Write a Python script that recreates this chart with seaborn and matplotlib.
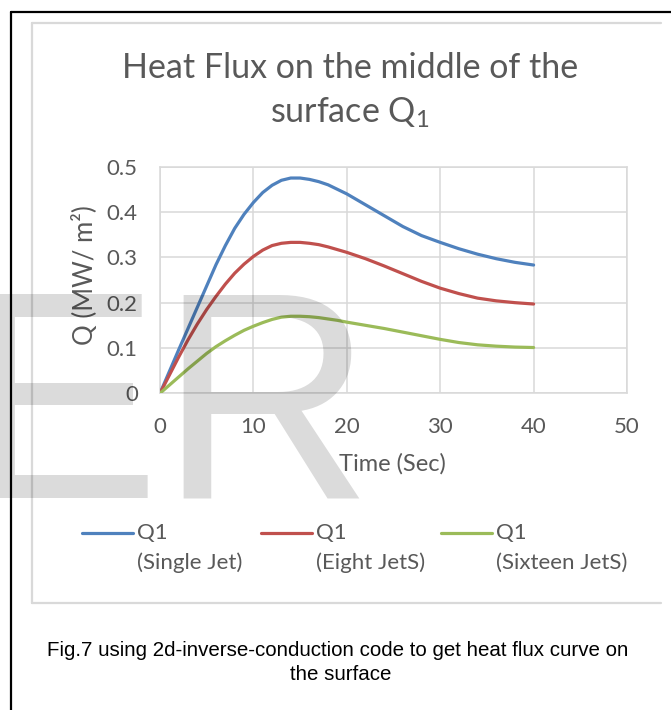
import matplotlib
matplotlib.use("Agg")
import matplotlib.pyplot as plt
from matplotlib.lines import Line2D
import seaborn as sns
import pandas as pd

# Time samples (s)
time_s = [0, 1, 2, 3, 4, 5, 6, 7, 8, 9, 10, 11, 12, 13, 14, 15, 16, 17, 18, 19, 20,
          22, 24, 26, 28, 30, 32, 34, 36, 38, 40]

# Heat flux Q (MW/m^2) at the middle of the surface
q_single = [0, 0.048, 0.096, 0.143, 0.190, 0.237, 0.284, 0.326, 0.364, 0.395, 0.421,
            0.443, 0.459, 0.470, 0.475, 0.475, 0.472, 0.467, 0.460, 0.450, 0.440,
            0.416, 0.392, 0.368, 0.348, 0.333, 0.319, 0.307, 0.297, 0.289, 0.283]
q_eight = [0, 0.040, 0.080, 0.118, 0.153, 0.185, 0.214, 0.241, 0.265, 0.285, 0.302,
           0.316, 0.326, 0.331, 0.333, 0.333, 0.331, 0.328, 0.323, 0.317, 0.311,
           0.297, 0.281, 0.264, 0.247, 0.232, 0.220, 0.210, 0.204, 0.200, 0.197]
q_sixteen = [0, 0.018, 0.036, 0.054, 0.071, 0.088, 0.103, 0.116, 0.128, 0.139, 0.148,
             0.156, 0.163, 0.168, 0.170, 0.170, 0.169, 0.167, 0.164, 0.161, 0.157,
             0.150, 0.143, 0.135, 0.127, 0.119, 0.112, 0.107, 0.104, 0.102, 0.101]

series_keys = ["single", "eight", "sixteen"]
legend_top = ["Q1", "Q1", "Q1"]
legend_sub = ["(Single Jet)", "(Eight JetS)", "(Sixteen JetS)"]
colors = ["#4F81BD", "#C0504D", "#9BBB59"]

x_ticks = [0, 10, 20, 30, 40, 50]
y_ticks = [0, 0.1, 0.2, 0.3, 0.4, 0.5]
y_tick_labels = ["0", "0.1", "0.2", "0.3", "0.4", "0.5"]

df = pd.concat([
    pd.DataFrame({"time": time_s, "q": vals, "series": key})
    for key, vals in zip(series_keys, [q_single, q_eight, q_sixteen])
], ignore_index=True)

sns.set_theme(style="white")
plt.rcParams["font.family"] = ["Lato", "DejaVu Sans"]
plt.rcParams["mathtext.fontset"] = "custom"
plt.rcParams["mathtext.rm"] = "Lato"
plt.rcParams["mathtext.it"] = "Lato:italic"
TEXT = "#595959"
GRID = "#D9D9D9"

W, H = 671, 710
fig = plt.figure(figsize=(W / 100, H / 100), dpi=100)
fig.patch.set_facecolor("white")

def fx(px):
    return px / W

def fy(py):
    return 1 - py / H

ax_l, ax_r, ax_t, ax_b = 160, 627, 166.7, 393.3
ax = fig.add_axes([fx(ax_l), fy(ax_b), fx(ax_r) - fx(ax_l), fy(ax_t) - fy(ax_b)])
sns.lineplot(data=df, x="time", y="q", hue="series", hue_order=series_keys,
             palette=colors, linewidth=2.3, legend=False, ax=ax, zorder=3)

ax.set_xlim(0, 50)
ax.set_ylim(0, 0.5)
ax.set_xticks(x_ticks)
ax.set_yticks(y_ticks)
ax.set_yticklabels(y_tick_labels)
ax.grid(True, color=GRID, linewidth=1.1)
ax.set_axisbelow(True)
for sp in ax.spines.values():
    sp.set_color(GRID)
    sp.set_linewidth(1.1)
ax.tick_params(axis="both", length=0, labelsize=16, colors=TEXT)
ax.tick_params(axis="x", pad=17)
ax.tick_params(axis="y", pad=16)

ax.set_xlabel("Time (Sec)", fontsize=17, color=TEXT)
ax.set_ylabel("Q (MW/ m²)", fontsize=18.5, color=TEXT)
ax.xaxis.set_label_coords((392 - ax_l) / (ax_r - ax_l), (ax_b - 464) / (ax_b - ax_t))
ax.xaxis.label.set_verticalalignment("center")
ax.yaxis.set_label_coords((85 - ax_l) / (ax_r - ax_l), (ax_b - 275) / (ax_b - ax_t))
ax.yaxis.label.set_verticalalignment("center")

# Title
fig.text(fx(350), fy(68), "Heat Flux on the middle of the", ha="center", va="center",
         fontsize=24.5, color=TEXT)
fig.text(fx(350), fy(113), "surface Q$_1$", ha="center", va="center",
         fontsize=24.5, color=TEXT)

# Legend below the plot
leg_x = [82, 261, 441]
for x0, c, top, sub in zip(leg_x, colors, legend_top, legend_sub):
    fig.add_artist(Line2D([fx(x0), fx(x0 + 51)], [fy(533), fy(533)],
                          color=c, linewidth=2.3, transform=fig.transFigure))
    fig.text(fx(x0 + 55), fy(533), top, ha="left", va="center", fontsize=16, color=TEXT)
    fig.text(fx(x0 + 55), fy(563), sub, ha="left", va="center", fontsize=16, color=TEXT)

# Chart frame
frame_kw = dict(color=GRID, linewidth=1.6, transform=fig.transFigure)
fig.add_artist(Line2D([fx(32), fx(661)], [fy(22.5), fy(22.5)], **frame_kw))
fig.add_artist(Line2D([fx(32), fx(661)], [fy(603), fy(603)], **frame_kw))
fig.add_artist(Line2D([fx(32), fx(32)], [fy(22.5), fy(603)], **frame_kw))

# Page border
border_kw = dict(color="black", linewidth=1.6, transform=fig.transFigure)
fig.add_artist(Line2D([fx(11), fx(671)], [fy(12), fy(12)], **border_kw))
fig.add_artist(Line2D([fx(11), fx(11)], [fy(12), fy(710)], **border_kw))

# Caption
fig.text(fx(338), fy(651), "Fig.7 using 2d-inverse-conduction code to get heat flux curve on",
         ha="center", va="center", fontsize=14.8, color="black", family="Liberation Sans")
fig.text(fx(341), fy(675), "the surface", ha="center", va="center", fontsize=14.8,
         color="black", family="Liberation Sans")

# Watermark letters
fig.text(fx(-37), fy(497), "ER", ha="left", va="baseline", fontsize=213,
         family="Liberation Sans", color="black", alpha=0.14, zorder=10)

fig.savefig("out.png", dpi=100)
